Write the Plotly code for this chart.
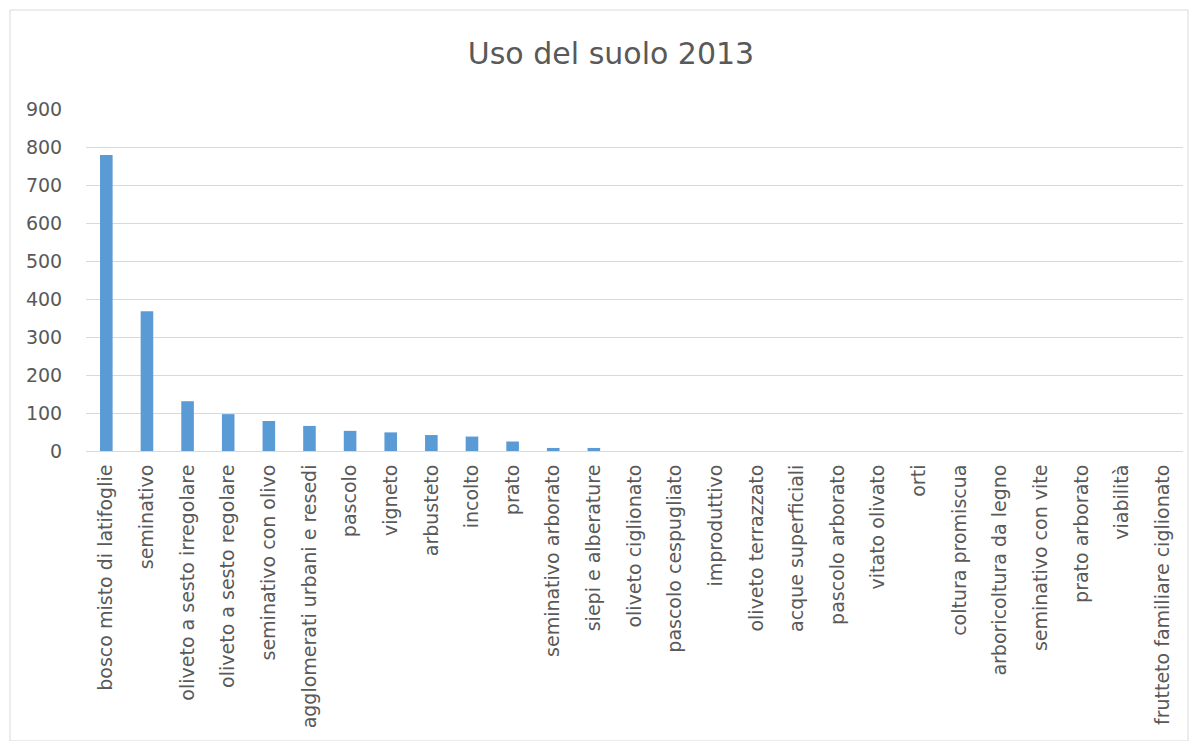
import plotly.graph_objects as go

categories = ["bosco misto di latifoglie", "seminativo", "oliveto a sesto irregolare",
              "oliveto a sesto regolare", "seminativo con olivo", "agglomerati urbani e resedi",
              "pascolo", "vigneto", "arbusteto", "incolto", "prato", "seminativo arborato",
              "siepi e alberature", "oliveto ciglionato", "pascolo cespugliato", "improduttivo",
              "oliveto terrazzato", "acque superficiali", "pascolo arborato", "vitato olivato",
              "orti", "coltura promiscua", "arboricoltura da legno", "seminativo con vite",
              "prato arborato", "viabilità", "frutteto familiare ciglionato"]
values = [779, 368, 131, 97, 79, 66, 53, 49, 42, 38, 25, 8, 8,
          0, 0, 0, 0, 0, 0, 0, 0, 0, 0, 0, 0, 0, 0]

OFF = 8  # default page body margin
W, H = 1197 - 2 * OFF, 749 - 2 * OFF
L = 86 - OFF
T = 109 - OFF
pw = 1097
R = W - L - pw
B = H - (451 - OFF)
ph = H - T - B

fig = go.Figure(go.Bar(x=categories, y=values, marker_color="#5b9bd5",
                       marker_line_width=0))

def px(xp):
    return (xp - OFF - L) / pw

def py(yp):
    return (H - B - (yp - OFF)) / ph

fig.update_layout(
    width=W, height=H,
    margin=dict(l=L, r=R, t=T, b=B),
    paper_bgcolor="white", plot_bgcolor="white",
    bargap=0.69,
    font=dict(family="DejaVu Sans, Liberation Sans, sans-serif", color="#595959"),
    title=dict(text="Uso del suolo 2013", xref="paper", x=px(611), xanchor="center",
               y=1 - (53 - OFF) / H, yanchor="middle",
               font=dict(size=30, color="#595959")),
    xaxis=dict(tickangle=-90, tickfont=dict(size=19, color="#595959"),
               showline=True, linecolor="#d9d9d9", linewidth=1,
               ticks="outside", ticklen=5, tickcolor="rgba(0,0,0,0)"),
    yaxis=dict(range=[0, 900], dtick=100, tickfont=dict(size=19, color="#595959"),
               gridcolor="#d9d9d9", gridwidth=1, zeroline=False, showline=False,
               ticks="outside", ticklen=19, tickcolor="rgba(0,0,0,0)"),
    shapes=[dict(type="rect", xref="paper", yref="paper",
                 x0=px(10), x1=px(1188), y0=py(741), y1=py(10),
                 line=dict(color="#d9d9d9", width=1))],
    showlegend=False,
)

fig.write_html("out.html")
